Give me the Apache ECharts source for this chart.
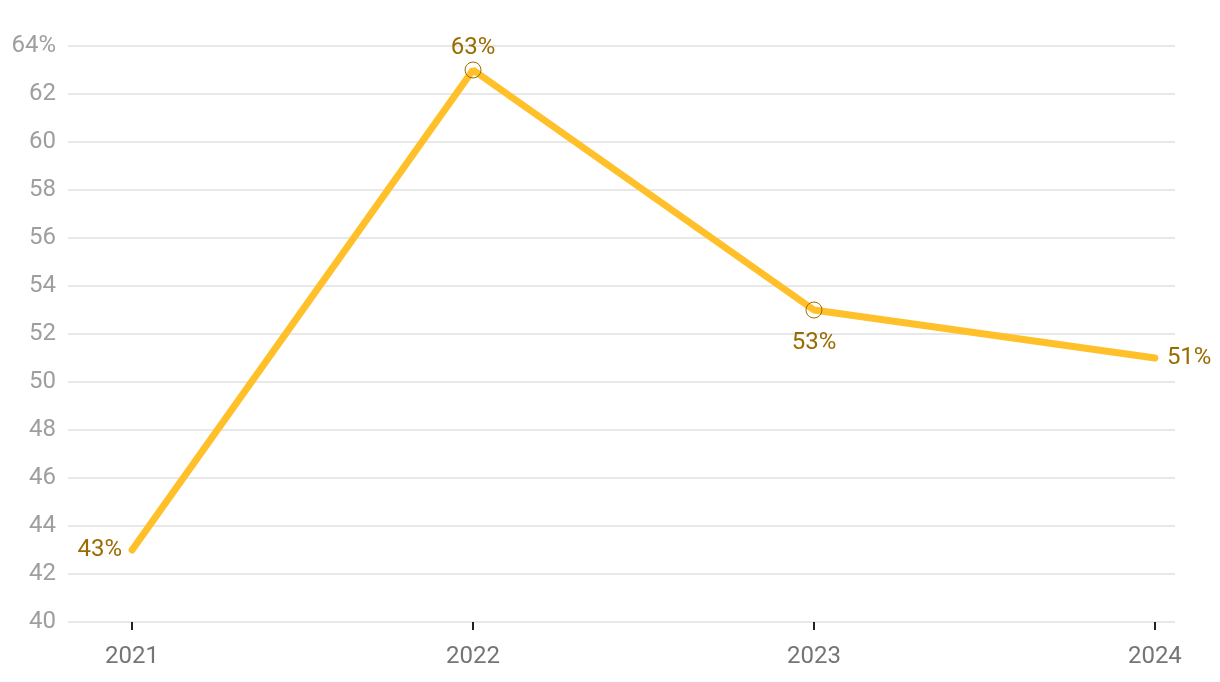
<!DOCTYPE html>
<html><head><meta charset="utf-8">
<script src="https://cdn.jsdelivr.net/npm/echarts@6/dist/echarts.min.js"></script>
<style>html,body{margin:0;padding:0;background:#fff}#c{width:1220px;height:682px}</style>
</head><body><div id="c"></div>
<script>
const years = [2021, 2022, 2023, 2024];
const values = [43, 63, 53, 51];
const labelPositions = ['left', 'top', 'bottom', 'right'];
const showMarker = [false, true, true, false];
const labelDistances = [10, 2, 12, 12];

const chart = echarts.init(document.getElementById('c'));
const data = years.map((y, i) => ({
  value: [y, values[i]],
  symbolSize: showMarker[i] ? 16 : 0,
  label: { position: labelPositions[i], distance: labelDistances[i] }
}));
chart.setOption({
  animation: false,
  grid: { left: 68, right: 45, top: 46, bottom: 60 },
  xAxis: {
    type: 'value', min: 2020.812, max: 2024.059,
    splitLine: { show: false },
    axisLine: { show: false },
    axisTick: { show: true, customValues: years, length: 8, lineStyle: { color: '#222', width: 2 } },
    axisLabel: { customValues: years, color: '#757575', fontSize: 24, fontFamily: 'Roboto', margin: 23, formatter: v => String(v) }
  },
  yAxis: {
    type: 'value', min: 40, max: 64, interval: 2,
    axisLine: { show: false }, axisTick: { show: false },
    splitLine: { lineStyle: { color: '#e0e0e0', width: 1.5 } },
    axisLabel: { color: '#9e9e9e', fontSize: 24, fontFamily: 'Roboto', margin: 12,
      formatter: v => v === 64 ? v + '%' : String(v) }
  },
  series: [{
    type: 'line', data: data,
    symbol: 'circle',
    lineStyle: { color: '#FFC02A', width: 7, cap: 'round' },
    itemStyle: { color: 'rgba(0,0,0,0)', borderColor: '#9a6b00', borderWidth: 1 },
    label: { show: true, color: '#9a6b00', fontSize: 24, fontFamily: 'Roboto',
      formatter: p => p.value[1] + '%' }
  }]
});
</script></body></html>
